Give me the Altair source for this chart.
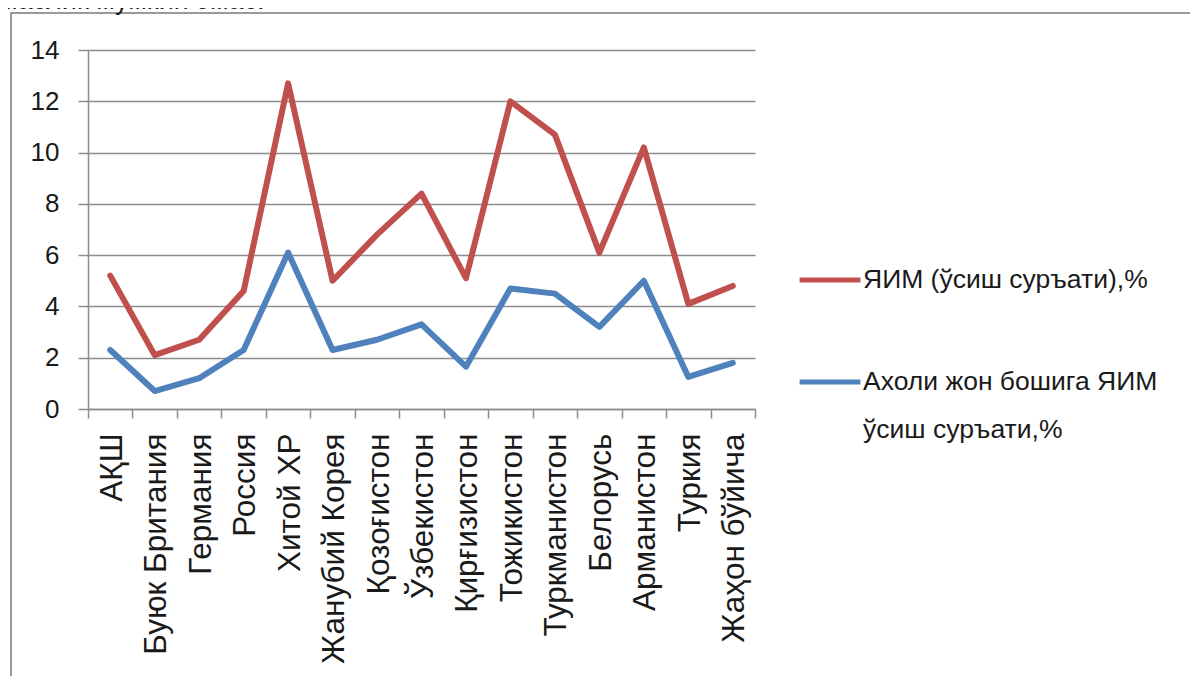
import altair as alt
import pandas as pd

countries = ["АҚШ", "Буюк Британия", "Германия", "Россия", "Хитой ХР",
             "Жанубий Корея", "Қозоғистон", "Ўзбекистон", "Қирғизистон",
             "Тожикистон", "Туркманистон", "Белорусь", "Арманистон",
             "Туркия", "Жаҳон бўйича"]
gdp_growth = [5.2, 2.1, 2.7, 4.6, 12.7, 5.0, 6.8, 8.4, 5.1, 12.0, 10.7, 6.1, 10.2, 4.1, 4.8]
gdp_pc_growth = [2.3, 0.7, 1.2, 2.3, 6.1, 2.3, 2.7, 3.3, 1.65, 4.7, 4.5, 3.2, 5.0, 1.25, 1.8]
series_names = ["ЯИМ (ўсиш суръати),%", "Ахоли жон бошига ЯИМ ўсиш суръати,%"]
series_label_lines = ["Ахоли жон бошига ЯИМ", "ўсиш суръати,%"]
series_colors = ["#C0504D", "#4F81BD"]
y_ticks = [0, 2, 4, 6, 8, 10, 12, 14]
top_text = "маслик мумкин эмас."

rows = []
for c, a, b in zip(countries, gdp_growth, gdp_pc_growth):
    rows.append({"country": c, "series": series_names[0], "value": a})
    rows.append({"country": c, "series": series_names[1], "value": b})
df = pd.DataFrame(rows)

REG = "'Liberation Sans', Arial, sans-serif"
GRAY = "#8c8c8c"

label_expr = (
    f"datum.label == '{series_names[1]}' ? "
    f"['{series_label_lines[0]}', '{series_label_lines[1]}'] : datum.label"
)

frame = alt.Chart(pd.DataFrame({"k": [0]})).mark_rect(
    filled=False, stroke="#9a9a9a", strokeWidth=2
).encode(
    x=alt.value(-77), x2=alt.value(1200), y=alt.value(-37), y2=alt.value(700)
)

header = alt.Chart(pd.DataFrame({"t": [top_text]})).mark_text(
    align="left", baseline="alphabetic", font=REG, fontSize=27, color="#1a1a1a"
).encode(x=alt.value(-89), y=alt.value(-41), text="t:N")

lines = alt.Chart(df).mark_line(
    strokeWidth=6, strokeJoin="round", strokeCap="round"
).encode(
    x=alt.X(
        "country:N", sort=countries, bandPosition=0.5,
        scale=alt.Scale(type="band", paddingInner=0, paddingOuter=0),
        axis=alt.Axis(
            title=None, tickBand="extent", labelAngle=270,
            labelAlign="right", labelBaseline="middle",
            labelFont=REG, labelFontSize=31.5, labelColor="#1a1a1a",
            labelPadding=15, tickSize=9, tickColor=GRAY, tickWidth=1.5,
            domainColor=GRAY, domainWidth=1.5, grid=False, labelLimit=400,
            labelOffset=2,
        ),
    ),
    y=alt.Y(
        "value:Q",
        scale=alt.Scale(domain=[0, 14], nice=False),
        axis=alt.Axis(
            title=None, values=y_ticks, labelFont=REG, labelFontSize=26,
            labelColor="#1a1a1a", labelPadding=19, tickSize=10,
            tickColor=GRAY, tickWidth=1.5, gridColor=GRAY, gridWidth=1.5,
            domainColor=GRAY, domainWidth=1.5,
        ),
    ),
    color=alt.Color(
        "series:N",
        scale=alt.Scale(domain=series_names, range=series_colors),
        legend=alt.Legend(
            title=None, orient="none", legendX=709, legendY=197,
            direction="vertical", symbolType="stroke", symbolSize=3700,
            symbolStrokeWidth=5, labelFont=REG, labelFontSize=26.5,
            labelColor="#1a1a1a", labelOffset=0, labelLimit=500,
            rowPadding=55, padding=0, labelExpr=label_expr,
        ),
    ),
    order=alt.Order("series:N"),
)

chart = alt.layer(frame, header, lines).properties(
    width=667, height=359,
    autosize=alt.AutoSizeParams(type="none"),
    padding={"left": 80, "top": 42, "right": 435, "bottom": 267},
).configure(
    style={"guide-label": {"lineHeight": 48}}
).configure_view(strokeWidth=0)

chart.save("out.html", embed_options={"renderer": "svg", "actions": False})
